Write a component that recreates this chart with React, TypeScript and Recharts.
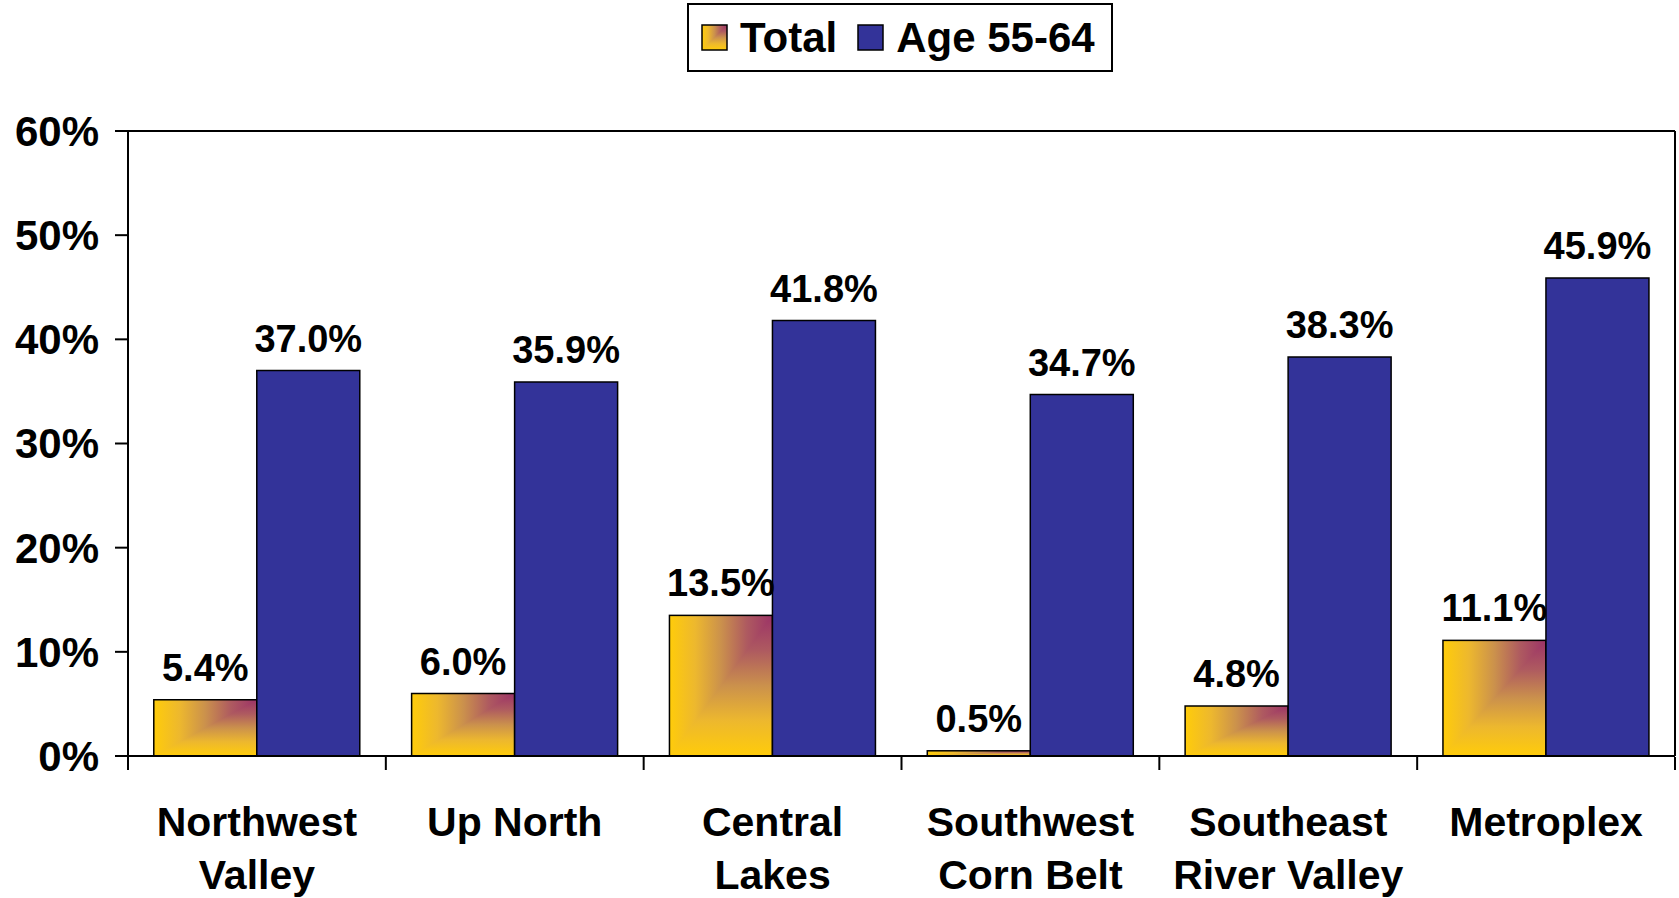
import React from 'react';
import { BarChart, Bar, XAxis, YAxis, Legend, LabelList, ReferenceLine } from 'recharts';

const categories = ['Northwest\nValley', 'Up North', 'Central\nLakes', 'Southwest\nCorn Belt', 'Southeast\nRiver Valley', 'Metroplex'];
const totalValues = [5.4, 6.0, 13.5, 0.5, 4.8, 11.1];
const age5564Values = [37.0, 35.9, 41.8, 34.7, 38.3, 45.9];
const seriesNames = ['Total', 'Age 55-64'];
const yTicks = [0, 10, 20, 30, 40, 50, 60];
const boundaryTicks = [0, 1, 2, 3, 4, 5, 6];

const data = categories.map((c, i) => ({ region: c, slot: i + 0.5, total: totalValues[i], age: age5564Values[i] }));

const FONT = '"Liberation Sans", Arial, Helvetica, sans-serif';
const BLUE = '#333399';

const GradStops = () => (
  <>
    <stop offset="0%" stopColor="#9C3367" />
    <stop offset="25%" stopColor="#AE5A60" />
    <stop offset="50%" stopColor="#CB914C" />
    <stop offset="75%" stopColor="#EDB82E" />
    <stop offset="100%" stopColor="#FFCC0A" />
  </>
);

const GradDefs = () => (
  <defs>
    <linearGradient id="gradH" x1="1" y1="0" x2="0" y2="0">
      <GradStops />
    </linearGradient>
    <linearGradient id="gradV" x1="0" y1="0" x2="0" y2="1">
      <GradStops />
    </linearGradient>
    <clipPath id="lowerRight" clipPathUnits="objectBoundingBox">
      <polygon points="1,0 1,1 0,1" />
    </clipPath>
  </defs>
);

const CornerGradientBar = (props: any) => {
  const { x, y, width, height } = props;
  if (!height || height <= 0) return null;
  return (
    <g>
      <rect x={x} y={y} width={width} height={height} fill="url(#gradH)" />
      <rect x={x} y={y} width={width} height={height} fill="url(#gradV)" clipPath="url(#lowerRight)" />
      <rect x={x} y={y} width={width} height={height} fill="none" stroke="#000" strokeWidth={1.5} />
    </g>
  );
};

const CategoryTick = (props: any) => {
  const { x, payload } = props;
  const lines = String(payload.value).split('\n');
  const base = 756;
  return (
    <text x={x} y={base} textAnchor="middle" fontSize={41} fontWeight="bold" fill="#000" fontFamily={FONT}>
      {lines.map((l, i) => (
        <tspan key={i} x={x} y={base + 80 + i * 53}>{l}</tspan>
      ))}
    </text>
  );
};

const LegendBox = () => (
  <div
    style={{
      border: '2px solid #000',
      background: '#fff',
      display: 'flex',
      alignItems: 'center',
      height: 69,
      padding: '0 16px 0 12px',
      fontFamily: FONT,
      fontWeight: 'bold',
      fontSize: 42,
      color: '#000',
      boxSizing: 'border-box',
      whiteSpace: 'nowrap',
    }}
  >
    <svg width={27} height={27} style={{ marginRight: 12, display: 'block' }}>
      <CornerGradientBar x={1} y={1} width={25} height={25} />
    </svg>
    <span style={{ marginRight: 20 }}>{seriesNames[0]}</span>
    <svg width={27} height={27} style={{ marginRight: 12, display: 'block' }}>
      <rect x={1} y={1} width={25} height={25} fill={BLUE} stroke="#000" strokeWidth={1.5} />
    </svg>
    <span>{seriesNames[1]}</span>
  </div>
);

export default function App() {
  return (
    <div style={{ position: 'absolute', left: 0, top: 0, background: '#fff' }}>
      <BarChart
        width={1679}
        height={898}
        data={data}
        margin={{ top: 131, right: 3, bottom: 140, left: 0 }}
        barCategoryGap="10%"
        barGap={0}
      >
        <GradDefs />
        <XAxis
          xAxisId="grid"
          type="number"
          dataKey="slot"
          domain={[0, categories.length]}
          ticks={boundaryTicks}
          height={1}
          axisLine={false}
          tickLine={{ stroke: '#000', strokeWidth: 2 }}
          tickSize={13}
          tickFormatter={() => ''}
          allowDataOverflow
          interval={0}
        />
        <XAxis
          xAxisId="cat"
          dataKey="region"
          height={1}
          tickLine={false}
          tickSize={0}
          tickMargin={0}
          axisLine={{ stroke: '#000', strokeWidth: 2 }}
          tick={<CategoryTick />}
          interval={0}
        />
        <YAxis
          yAxisId="left"
          width={128}
          domain={[0, 60]}
          ticks={yTicks}
          tickFormatter={(v: number) => `${v}%`}
          tickSize={13}
          tickMargin={16}
          axisLine={{ stroke: '#000', strokeWidth: 2 }}
          tickLine={{ stroke: '#000', strokeWidth: 2 }}
          tick={{ fontSize: 42, fontWeight: 'bold', fill: '#000', fontFamily: FONT }}
          interval={0}
        />
        <YAxis
          yAxisId="right"
          orientation="right"
          width={1}
          domain={[0, 60]}
          tick={false}
          tickLine={false}
          axisLine={{ stroke: '#000', strokeWidth: 2 }}
        />
        <ReferenceLine xAxisId="cat" yAxisId="left" y={60} stroke="#000" strokeWidth={2} />
        <Legend
          layout="horizontal"
          verticalAlign="middle"
          align="center"
          wrapperStyle={{ top: 3, left: 687, width: 'auto', height: 'auto' }}
          content={() => <LegendBox />}
        />
        <Bar xAxisId="cat" yAxisId="left" dataKey="total" name={seriesNames[0]} fill="#FFCC0A" shape={<CornerGradientBar />} isAnimationActive={false}>
          <LabelList dataKey="total" position="top" offset={19} formatter={(v: number) => `${v.toFixed(1)}%`} style={{ fontSize: 38, fontWeight: 'bold', fill: '#000', fontFamily: FONT }} />
        </Bar>
        <Bar xAxisId="cat" yAxisId="left" dataKey="age" name={seriesNames[1]} fill={BLUE} stroke="#000" strokeWidth={1.5} isAnimationActive={false}>
          <LabelList dataKey="age" position="top" offset={19} formatter={(v: number) => `${v.toFixed(1)}%`} style={{ fontSize: 38, fontWeight: 'bold', fill: '#000', fontFamily: FONT }} />
        </Bar>
      </BarChart>
    </div>
  );
}
